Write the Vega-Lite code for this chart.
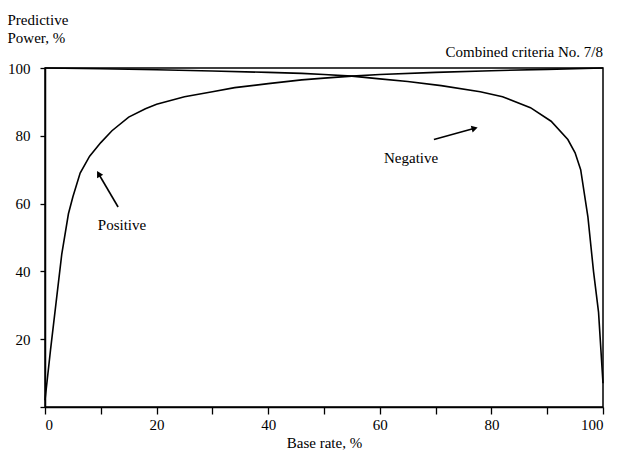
{
  "$schema": "https://vega.github.io/schema/vega-lite/v6.json",
  "width": 558,
  "height": 339,
  "autosize": {"type": "none"},
  "padding": {"left": 45, "top": 68, "right": 15, "bottom": 54},
  "background": "white",
  "config": {
    "font": "Liberation Serif",
    "view": {"stroke": "black", "strokeWidth": 1.5},
    "axis": {"labelFont": "Liberation Serif", "titleFont": "Liberation Serif", "labelFontSize": 15, "titleFontSize": 15, "titleFontWeight": "normal", "labelColor": "black", "titleColor": "black", "domainColor": "black", "tickColor": "black", "domainWidth": 1.5, "tickWidth": 1.3, "grid": false}
  },
  "datasets": {
    "curves": [
      {"rate": 0, "value": 2, "series": "Positive"},
      {"rate": 1, "value": 17, "series": "Positive"},
      {"rate": 2, "value": 31, "series": "Positive"},
      {"rate": 3, "value": 45, "series": "Positive"},
      {"rate": 4.2, "value": 57, "series": "Positive"},
      {"rate": 5, "value": 62, "series": "Positive"},
      {"rate": 6.3, "value": 69, "series": "Positive"},
      {"rate": 8, "value": 74, "series": "Positive"},
      {"rate": 10, "value": 78, "series": "Positive"},
      {"rate": 12, "value": 81.5, "series": "Positive"},
      {"rate": 15, "value": 85.5, "series": "Positive"},
      {"rate": 18, "value": 88, "series": "Positive"},
      {"rate": 20, "value": 89.3, "series": "Positive"},
      {"rate": 25, "value": 91.5, "series": "Positive"},
      {"rate": 30, "value": 93, "series": "Positive"},
      {"rate": 34, "value": 94.2, "series": "Positive"},
      {"rate": 40, "value": 95.4, "series": "Positive"},
      {"rate": 46, "value": 96.5, "series": "Positive"},
      {"rate": 50, "value": 97, "series": "Positive"},
      {"rate": 55, "value": 97.6, "series": "Positive"},
      {"rate": 60, "value": 98.1, "series": "Positive"},
      {"rate": 70, "value": 98.7, "series": "Positive"},
      {"rate": 80, "value": 99.2, "series": "Positive"},
      {"rate": 90, "value": 99.6, "series": "Positive"},
      {"rate": 100, "value": 100, "series": "Positive"},
      {"rate": 0, "value": 100, "series": "Negative"},
      {"rate": 10, "value": 99.8, "series": "Negative"},
      {"rate": 20, "value": 99.5, "series": "Negative"},
      {"rate": 30, "value": 99.1, "series": "Negative"},
      {"rate": 40, "value": 98.7, "series": "Negative"},
      {"rate": 46, "value": 98.4, "series": "Negative"},
      {"rate": 50, "value": 98.1, "series": "Negative"},
      {"rate": 55, "value": 97.6, "series": "Negative"},
      {"rate": 60, "value": 96.8, "series": "Negative"},
      {"rate": 65, "value": 96, "series": "Negative"},
      {"rate": 71, "value": 94.8, "series": "Negative"},
      {"rate": 78, "value": 93, "series": "Negative"},
      {"rate": 82, "value": 91.5, "series": "Negative"},
      {"rate": 87, "value": 88.3, "series": "Negative"},
      {"rate": 90.7, "value": 84.3, "series": "Negative"},
      {"rate": 93.7, "value": 78.9, "series": "Negative"},
      {"rate": 95, "value": 75, "series": "Negative"},
      {"rate": 96, "value": 70, "series": "Negative"},
      {"rate": 97.3, "value": 56, "series": "Negative"},
      {"rate": 98.3, "value": 40, "series": "Negative"},
      {"rate": 99.2, "value": 28, "series": "Negative"},
      {"rate": 100, "value": 7, "series": "Negative"}
    ],
    "labels": [
      {"rate": 13.8, "value": 53.7, "text": "Positive"},
      {"rate": 65.6, "value": 73.5, "text": "Negative"}
    ],
    "caption": [{"rate": 100, "value": 103.3, "text": "Combined criteria No. 7/8"}],
    "arrowPos": [{"x1": 13.1, "y1": 59, "x2": 9.6, "y2": 68.8}],
    "arrowNeg": [{"x1": 69.7, "y1": 78.9, "x2": 77, "y2": 82.2}]
  },
  "layer": [
    {
      "data": {"name": "curves"},
      "mark": {"type": "line", "color": "black", "strokeWidth": 1.6},
      "encoding": {
        "x": {"field": "rate", "type": "quantitative", "scale": {"domain": [0, 100], "nice": false, "zero": false},
          "axis": {"title": "Base rate, %", "values": [0,10,20,30,40,50,60,70,80,90,100], "labelExpr": "datum.value % 20 == 0 ? datum.label : ''", "tickSize": 7, "labelPadding": 3, "titlePadding": 3}},
        "y": {"field": "value", "type": "quantitative", "scale": {"domain": [0, 100], "nice": false},
          "axis": {"title": ["Predictive", "Power, %"], "values": [0,10,20,30,40,50,60,70,80,90,100], "labelExpr": "datum.value % 20 == 0 && datum.value > 0 ? datum.label : ''", "tickSize": 5, "labelPadding": 10, "titleAngle": 0, "titleAlign": "left", "titleBaseline": "alphabetic", "titleX": -38, "titleY": -44, "titleLineHeight": 18}},
        "detail": {"field": "series"}
      }
    },
    {
      "data": {"name": "labels"},
      "mark": {"type": "text", "font": "Liberation Serif", "fontSize": 15, "color": "black", "align": "center", "baseline": "middle"},
      "encoding": {"x": {"field": "rate", "type": "quantitative"}, "y": {"field": "value", "type": "quantitative"}, "text": {"field": "text"}}
    },
    {
      "data": {"name": "caption"},
      "mark": {"type": "text", "font": "Liberation Serif", "fontSize": 15, "color": "black", "align": "right", "baseline": "alphabetic", "clip": false},
      "encoding": {"x": {"field": "rate", "type": "quantitative"}, "y": {"field": "value", "type": "quantitative"}, "text": {"field": "text"}}
    },
    {
      "data": {"name": "arrowPos"},
      "mark": {"type": "rule", "color": "black", "strokeWidth": 1.6},
      "encoding": {"x": {"field": "x1", "type": "quantitative"}, "y": {"field": "y1", "type": "quantitative"}, "x2": {"field": "x2"}, "y2": {"field": "y2"}}
    },
    {
      "data": {"name": "arrowPos"},
      "mark": {"type": "point", "shape": "triangle-up", "filled": true, "color": "black", "size": 50, "angle": 330, "opacity": 1},
      "encoding": {"x": {"field": "x2", "type": "quantitative"}, "y": {"field": "y2", "type": "quantitative"}}
    },
    {
      "data": {"name": "arrowNeg"},
      "mark": {"type": "rule", "color": "black", "strokeWidth": 1.6},
      "encoding": {"x": {"field": "x1", "type": "quantitative"}, "y": {"field": "y1", "type": "quantitative"}, "x2": {"field": "x2"}, "y2": {"field": "y2"}}
    },
    {
      "data": {"name": "arrowNeg"},
      "mark": {"type": "point", "shape": "triangle-up", "filled": true, "color": "black", "size": 50, "angle": 75, "opacity": 1},
      "encoding": {"x": {"field": "x2", "type": "quantitative"}, "y": {"field": "y2", "type": "quantitative"}}
    }
  ]
}
